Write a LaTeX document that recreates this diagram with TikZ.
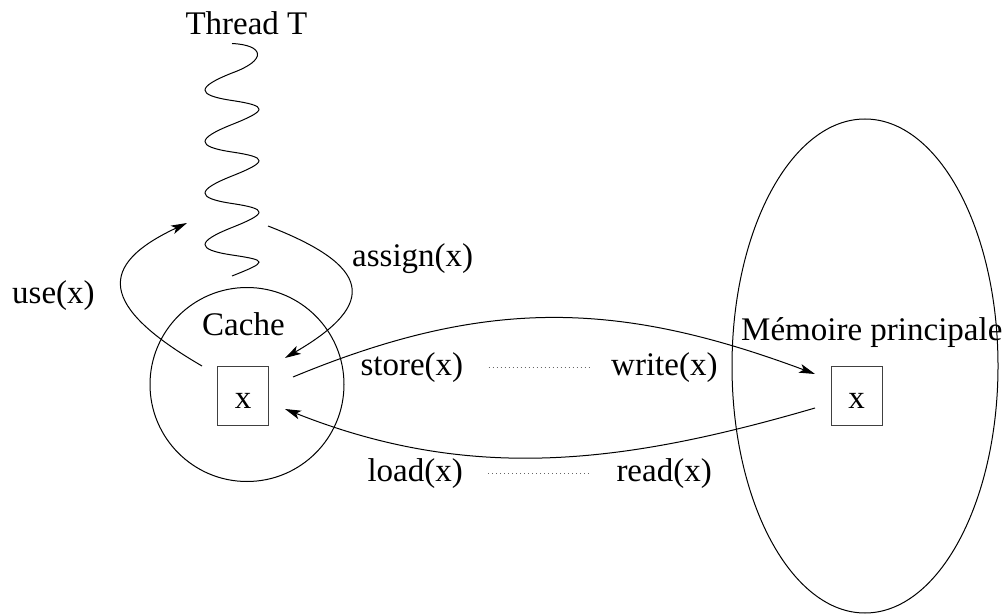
\documentclass[tikz,border=0pt]{standalone}
\usepackage{fontspec}
\setmainfont{Liberation Serif}
\usetikzlibrary{arrows.meta,shapes.geometric}
\begin{document}
\begin{tikzpicture}[x=1pt,y=-1pt,line width=1pt,
  lbl/.style={anchor=base west,inner sep=0pt,font=\fontsize{33}{40}\selectfont},
  varbox/.style={draw=black!75,minimum width=51pt,minimum height=59pt,inner sep=0pt,
    text height=24pt,text depth=0pt,font=\fontsize{33}{40}\selectfont},
  conn/.style={-{Stealth[length=16pt,width=9pt,inset=4pt]}},
  dotline/.style={draw=black!60,dash pattern=on 1pt off 3pt}]
\useasboundingbox (0,0) rectangle (1004,615);

% containers
\node[draw,circle,minimum size=194pt,inner sep=0pt] (cache) at (247,384.5) {};
\node[draw,ellipse,minimum width=266pt,minimum height=494pt,inner sep=0pt] (mem) at (865,366) {};

% variable boxes
\node[varbox] (cx) at (243,396) {x};
\node[varbox] (mx) at (856.7,396) {x};

% labels
\node[lbl] (thread) at (185,35) {Thread T};
\node[lbl] (use) at (11.7,303) {use(x)};
\node[lbl] (assign) at (351.7,266) {assign(x)};
\node[lbl] (cachelbl) at (201.7,335) {Cache};
\node[lbl] (memlbl) at (740.7,340) {Mémoire principale};
\node[lbl] (store) at (360,375) {store(x)};
\node[lbl] (write) at (610.7,375) {write(x)};
\node[lbl] (load) at (367,481) {load(x)};
\node[lbl] (read) at (616,481) {read(x)};

% thread (wavy line)
\draw (232,43.5) .. controls (264,45) and (268,60) .. (232,73)
  .. controls (196,87.3) and (196,95.1) .. (232,100.5)
  .. controls (268,105.9) and (268,110.2) .. (232,124.5)
  .. controls (196,138.8) and (196,146.6) .. (232,152)
  .. controls (268,157.4) and (268,161.7) .. (232,176)
  .. controls (196,190.3) and (196,198.1) .. (232,203.5)
  .. controls (268,208.9) and (268,213.2) .. (232,227.5)
  .. controls (196,241.8) and (196,249.6) .. (232,255)
  .. controls (268,260.4) and (268,261.7) .. (232,276);

% connector end points
\coordinate (useS) at (202,366);
\coordinate (useE) at (187,223);
\coordinate (asgS) at (268,226);
\coordinate (asgE) at (285,358);
\coordinate (stS) at (293,377);
\coordinate (stE) at (815,374);
\coordinate (ldS) at (815,408);
\coordinate (ldE) at (285,409);

% connectors
\draw[conn] (useS) .. controls +(-103.2,-60) and +(-90,42) .. (useE);
\draw[conn] (asgS) .. controls +(102.3,39.6) and +(94.6,-55) .. (asgE);
\draw[conn] (stS) .. controls +(193,-80) and +(-197,-73.5) .. (stE);
\draw[conn] (ldS) .. controls +(-192,56) and +(186,74) .. (ldE);

% dotted correspondences
\draw[dotline] ([xshift=25pt]store.east) -- ([xshift=-21pt]write.west);
\draw[dotline] ([xshift=25pt]load.east) -- ([xshift=-27pt]read.west);
\end{tikzpicture}
\end{document}
